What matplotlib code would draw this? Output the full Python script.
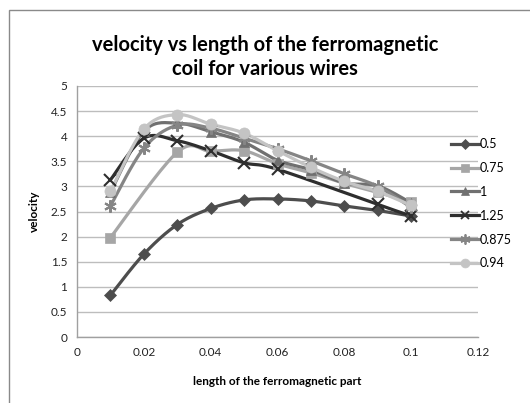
import matplotlib

matplotlib.use("Agg")
import matplotlib.pyplot as plt
import numpy as np
from matplotlib.lines import Line2D
from matplotlib.patches import Rectangle

plt.rcParams["font.family"] = ["Lato", "DejaVu Sans"]

# series: (label, x values, y values)
x_full = [0.01, 0.02, 0.03, 0.04, 0.05, 0.06, 0.07, 0.08, 0.09, 0.1]

x_05 = x_full
y_05 = [0.83, 1.65, 2.24, 2.56, 2.73, 2.75, 2.71, 2.61, 2.52, 2.41]

x_075 = [0.01, 0.03, 0.04, 0.05, 0.06, 0.07, 0.08, 0.09, 0.1]
y_075 = [1.98, 3.68, 3.70, 3.71, 3.45, 3.27, 3.06, 2.88, 2.69]

x_1 = x_full
y_1 = [2.88, 4.10, 4.26, 4.09, 3.88, 3.52, 3.33, 3.07, 3.01, 2.67]

x_125 = [0.01, 0.02, 0.03, 0.04, 0.05, 0.06, 0.09, 0.1]
y_125 = [3.13, 3.96, 3.91, 3.71, 3.47, 3.34, 2.64, 2.41]

x_0875 = x_full
y_0875 = [2.61, 3.76, 4.22, 4.16, 3.96, 3.75, 3.51, 3.25, 3.00, 2.58]

x_094 = x_full
y_094 = [2.90, 4.14, 4.43, 4.24, 4.06, 3.71, 3.38, 3.10, 2.90, 2.62]

labels = ["0.5", "0.75", "1", "1.25", "0.875", "0.94"]
xs = [x_05, x_075, x_1, x_125, x_0875, x_094]
ys = [y_05, y_075, y_1, y_125, y_0875, y_094]

colors = ["#4d4d4d", "#a6a6a6", "#707070", "#2e2e2e", "#858585", "#c4c4c4"]
markers = ["D", "s", "^", "x", (6, 2, 0), "o"]
msizes = [6, 7, 7, 8, 9, 8]


def is_thin(m):
    return m == "x" or isinstance(m, tuple)


def smooth(x, y, n=20):
    # Excel-style smoothed line: cubic Bezier with Catmull-Rom control points
    x = np.asarray(x, float)
    y = np.asarray(y, float)
    px, py = [], []
    for i in range(len(x) - 1):
        i0 = max(i - 1, 0)
        i3 = min(i + 2, len(x) - 1)
        c1x = x[i] + (x[i + 1] - x[i0]) / 6
        c1y = y[i] + (y[i + 1] - y[i0]) / 6
        c2x = x[i + 1] - (x[i3] - x[i]) / 6
        c2y = y[i + 1] - (y[i3] - y[i]) / 6
        t = np.linspace(0, 1, n)
        bx = (1 - t) ** 3 * x[i] + 3 * (1 - t) ** 2 * t * c1x + 3 * (1 - t) * t ** 2 * c2x + t ** 3 * x[i + 1]
        by = (1 - t) ** 3 * y[i] + 3 * (1 - t) ** 2 * t * c1y + 3 * (1 - t) * t ** 2 * c2y + t ** 3 * y[i + 1]
        px.extend(bx)
        py.extend(by)
    return px, py


fig = plt.figure(figsize=(5.30, 4.03), dpi=100)
ax = fig.add_axes([77 / 530, 1 - 337 / 403, 401 / 530, 251 / 403])

for x, y, c, m, ms in zip(xs, ys, colors, markers, msizes):
    sx, sy = smooth(x, y)
    ax.plot(sx, sy, color=c, lw=2.3, zorder=2)
    mew = 1.5 if is_thin(m) else 0.5
    ax.plot(x, y, ls="none", marker=m, ms=ms, color=c, mec=c, mew=mew, zorder=3)

ax.set_xlim(0, 0.12)
ax.set_ylim(0, 5)
ax.set_xticks(np.arange(0, 0.121, 0.02))
ax.set_xticklabels(["0", "0.02", "0.04", "0.06", "0.08", "0.1", "0.12"])
ax.set_yticks(np.arange(0, 5.01, 0.5))
ax.set_yticklabels(["0", "0.5", "1", "1.5", "2", "2.5", "3", "3.5", "4", "4.5", "5"])
ax.tick_params(length=0, labelsize=8.5, colors="#222222", pad=7)
ax.grid(axis="y", color="#bdbdbd", lw=1)
ax.set_axisbelow(True)
for side in ("top", "right"):
    ax.spines[side].set_visible(False)
for side in ("left", "bottom"):
    ax.spines[side].set_color("#a0a0a0")
    ax.spines[side].set_linewidth(1)

ax.set_xlabel("length of the ferromagnetic part", fontsize=8.5, fontweight="bold", labelpad=13)
ax.set_ylabel("velocity", fontsize=8.5, fontweight="bold", labelpad=8)

fig.text(0.5, 1 - 57 / 403, "velocity vs length of the ferromagnetic\ncoil for various wires",
         ha="center", va="center", fontsize=14.5, fontweight="bold", linespacing=1.3)

handles = [Line2D([], [], color=c, marker=m, ms=ms * 0.8, lw=2.3,
                  mew=1.3 if is_thin(m) else 0.5)
           for c, m, ms in zip(colors, markers, msizes)]
fig.legend(handles, labels, loc="upper left", bbox_to_anchor=(446 / 530, 1 - 133 / 403),
           frameon=False, fontsize=9, handlelength=2.2, handletextpad=0.1,
           labelspacing=0.95, borderaxespad=0)

fig.patches.append(Rectangle((9 / 530, -0.1), 1.2, 1.1 - 10 / 403, transform=fig.transFigure,
                             fill=False, edgecolor="#8a8a8a", lw=1))

fig.savefig("out.png", dpi=100)
